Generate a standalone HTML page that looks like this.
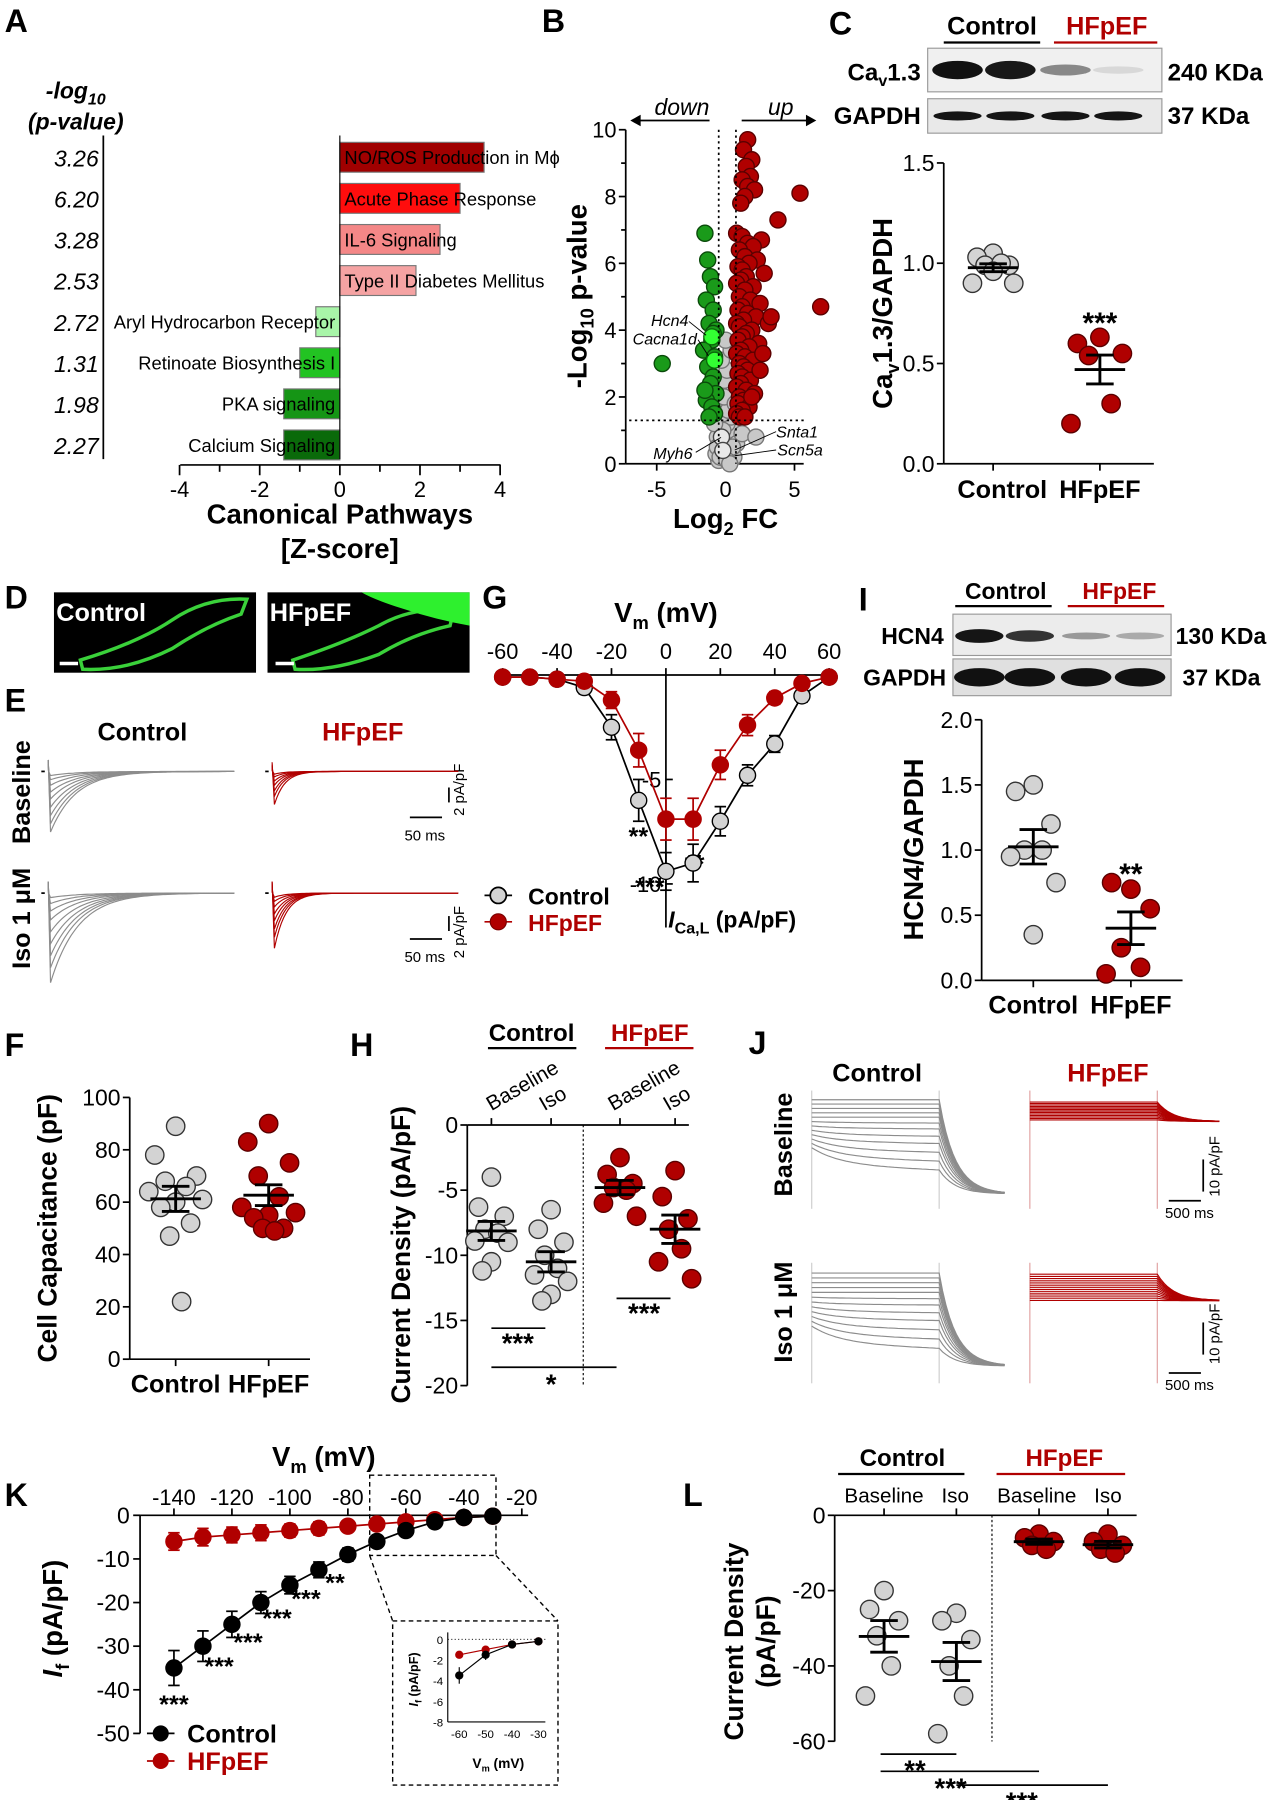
<!DOCTYPE html>
<html><head><meta charset="utf-8"><style>
html,body{margin:0;padding:0;background:#fff}
svg{display:block;font-family:"Liberation Sans",sans-serif}
.b{font-weight:bold}
</style></head><body>
<svg id="fig" width="1279" height="1800" viewBox="0 0 1114 1568" preserveAspectRatio="none" xmlns="http://www.w3.org/2000/svg">
<rect x="0" y="0" width="1114" height="1568" fill="#fff"/>
<g class="b" font-size="28">
<text x="4" y="28">A</text>
<text x="472" y="28">B</text>
<text x="722" y="30">C</text>
<text x="4" y="530">D</text>
<text x="4" y="620">E</text>
<text x="420" y="530">G</text>
<text x="748" y="532">I</text>
<text x="4" y="920">F</text>
<text x="305" y="920">H</text>
<text x="652" y="918">J</text>
<text x="4" y="1312">K</text>
<text x="595" y="1312">L</text>
</g>
<text x="66" y="86" font-size="20" font-style="italic" class="b" text-anchor="middle">-log<tspan font-size="14" dy="5">10</tspan></text>
<text x="66" y="113" font-size="20" font-style="italic" class="b" text-anchor="middle">(p-value)</text>
<text x="296" y="456" font-size="24" class="b" text-anchor="middle">Canonical Pathways</text>
<text x="296" y="486" font-size="24" class="b" text-anchor="middle">[Z-score]</text>
<text x="594" y="100" font-size="20" font-style="italic" text-anchor="middle">down</text>
<text x="680" y="100" font-size="20" font-style="italic" text-anchor="middle">up</text>
<text x="632" y="460" font-size="24" class="b" text-anchor="middle">Log<tspan font-size="16" dy="6">2</tspan><tspan dy="-6"> FC</tspan></text>
<text transform="translate(511,258) rotate(-90)" font-size="24" class="b" text-anchor="middle">-Log<tspan font-size="16" dy="6">10</tspan><tspan dy="-6"> p-value</tspan></text>
<g font-size="14" font-style="italic">
<text x="567" y="284">Hcn4</text>
<text x="551" y="300">Cacna1d</text>
<text x="569" y="400">Myh6</text>
<text x="676" y="381">Snta1</text>
<text x="677" y="397">Scn5a</text>
</g>
<text x="864" y="30" font-size="22" class="b" text-anchor="middle">Control</text>
<line x1="822" y1="37" x2="906" y2="37" stroke="#000" stroke-width="2"/>
<text x="964" y="30" font-size="22" class="b" fill="#b00000" text-anchor="middle">HFpEF</text>
<line x1="918" y1="37" x2="1008" y2="37" stroke="#b00000" stroke-width="2"/>
<text x="802" y="70" font-size="21" class="b" text-anchor="end">Ca<tspan font-size="14" dy="5">v</tspan><tspan dy="-5">1.3</tspan></text>
<text x="802" y="108" font-size="21" class="b" text-anchor="end">GAPDH</text>
<text x="1017" y="70" font-size="21" class="b">240 KDa</text>
<text x="1017" y="108" font-size="21" class="b">37 KDa</text>
<text x="873" y="434" font-size="22" class="b" text-anchor="middle">Control</text>
<text x="958" y="434" font-size="22" class="b" text-anchor="middle">HFpEF</text>
<text transform="translate(777,273) rotate(-90)" font-size="24" class="b" text-anchor="middle">Ca<tspan font-size="16" dy="6">v</tspan><tspan dy="-6">1.3/GAPDH</tspan></text>
<text x="958" y="290" font-size="26" class="b" text-anchor="middle">***</text>
<rect x="47" y="516" width="176" height="70" fill="#000"/>
<rect x="233" y="516" width="176" height="70" fill="#000"/>
<path d="M70 575 Q120 560 150 540 Q180 520 215 522 L210 535 Q180 545 150 565 Q110 585 72 583Z" fill="none" stroke="#3ad13a" stroke-width="3"/>
<path d="M255 575 Q300 560 330 545 Q360 528 395 532 L392 545 Q360 552 330 570 Q290 585 257 583Z" fill="none" stroke="#3ad13a" stroke-width="3"/>
<path d="M315 516 L409 516 L409 545 Q380 540 350 530 Q325 522 315 516Z" fill="#2ef02e"/>
<text x="49" y="541" font-size="22" class="b" fill="#fff">Control</text>
<text x="235" y="541" font-size="22" class="b" fill="#fff">HFpEF</text>
<line x1="52" y1="578" x2="68" y2="578" stroke="#fff" stroke-width="3"/>
<line x1="240" y1="578" x2="256" y2="578" stroke="#fff" stroke-width="3"/>
<text x="124" y="645" font-size="22" class="b" text-anchor="middle">Control</text>
<text x="316" y="645" font-size="22" class="b" fill="#b00000" text-anchor="middle">HFpEF</text>
<text transform="translate(26,690) rotate(-90)" font-size="22" class="b" text-anchor="middle">Baseline</text>
<text transform="translate(26,800) rotate(-90)" font-size="22" class="b" text-anchor="middle">Iso 1 μM</text>
<g>
<line x1="357" y1="712" x2="385" y2="712" stroke="#000" stroke-width="1.5"/>
<text x="370" y="732" font-size="13" text-anchor="middle">50 ms</text>
<line x1="391" y1="686" x2="391" y2="699" stroke="#000" stroke-width="1.5"/>
<text transform="translate(404,688) rotate(-90)" font-size="13" text-anchor="middle">2 pA/pF</text>
<line x1="357" y1="818" x2="385" y2="818" stroke="#000" stroke-width="1.5"/>
<text x="370" y="838" font-size="13" text-anchor="middle">50 ms</text>
<line x1="391" y1="798" x2="391" y2="811" stroke="#000" stroke-width="1.5"/>
<text transform="translate(404,812) rotate(-90)" font-size="13" text-anchor="middle">2 pA/pF</text>
</g>
<text x="580" y="542" font-size="24" class="b" text-anchor="middle">V<tspan font-size="16" dy="6">m</tspan><tspan dy="-6"> (mV)</tspan></text>
<text x="582" y="808" font-size="20" class="b"><tspan font-style="italic">I</tspan><tspan font-size="14" dy="5">Ca,L</tspan><tspan dy="-5"> (pA/pF)</tspan></text>
<line x1="422" y1="780" x2="446" y2="780" stroke="#000" stroke-width="1.5"/>
<circle cx="434" cy="780" r="7" fill="#d3d3d3" stroke="#000" stroke-width="1.5"/>
<text x="460" y="788" font-size="20" class="b">Control</text>
<line x1="422" y1="803" x2="446" y2="803" stroke="#b00000" stroke-width="1.5"/>
<circle cx="434" cy="803" r="7" fill="#b00000" stroke="#7a0000" stroke-width="1"/>
<text x="460" y="811" font-size="20" class="b" fill="#b00000">HFpEF</text>
<g font-size="22" class="b" text-anchor="middle">
<text x="556" y="736">**</text>
<text x="566" y="780">***</text>
<text x="605" y="760">**</text>
</g>
<text x="876" y="522" font-size="20" class="b" text-anchor="middle">Control</text>
<line x1="832" y1="528" x2="916" y2="528" stroke="#000" stroke-width="2"/>
<text x="975" y="522" font-size="20" class="b" fill="#b00000" text-anchor="middle">HFpEF</text>
<line x1="930" y1="528" x2="1014" y2="528" stroke="#b00000" stroke-width="2"/>
<text x="822" y="561" font-size="20" class="b" text-anchor="end">HCN4</text>
<text x="824" y="597" font-size="20" class="b" text-anchor="end">GAPDH</text>
<text x="1024" y="561" font-size="20" class="b">130 KDa</text>
<text x="1030" y="597" font-size="20" class="b">37 KDa</text>
<text x="900" y="883" font-size="22" class="b" text-anchor="middle">Control</text>
<text x="985" y="883" font-size="22" class="b" text-anchor="middle">HFpEF</text>
<text transform="translate(804,740) rotate(-90)" font-size="24" class="b" text-anchor="middle">HCN4/GAPDH</text>
<text x="985" y="770" font-size="26" class="b" text-anchor="middle">**</text>
<text x="153" y="1213" font-size="22" class="b" text-anchor="middle">Control</text>
<text x="234" y="1213" font-size="22" class="b" text-anchor="middle">HFpEF</text>
<text transform="translate(49,1070) rotate(-90)" font-size="23" class="b" text-anchor="middle">Cell Capacitance (pF)</text>
<text x="463" y="907" font-size="21" class="b" text-anchor="middle">Control</text>
<line x1="425" y1="913" x2="502" y2="913" stroke="#000" stroke-width="2"/>
<text x="566" y="907" font-size="21" class="b" fill="#b00000" text-anchor="middle">HFpEF</text>
<line x1="527" y1="913" x2="604" y2="913" stroke="#b00000" stroke-width="2"/>
<g font-size="18">
<text transform="translate(428,968) rotate(-30)">Baseline</text>
<text transform="translate(474,968) rotate(-30)">Iso</text>
<text transform="translate(534,968) rotate(-30)">Baseline</text>
<text transform="translate(582,968) rotate(-30)">Iso</text>
</g>
<text transform="translate(357,1093) rotate(-90)" font-size="23" class="b" text-anchor="middle">Current Density (pA/pF)</text>
<g>
<line x1="428" y1="1157" x2="475" y2="1157" stroke="#000" stroke-width="1.5"/>
<text x="451" y="1178" font-size="24" class="b" text-anchor="middle">***</text>
<line x1="537" y1="1131" x2="584" y2="1131" stroke="#000" stroke-width="1.5"/>
<text x="561" y="1152" font-size="24" class="b" text-anchor="middle">***</text>
<line x1="428" y1="1191" x2="537" y2="1191" stroke="#000" stroke-width="1.5"/>
<text x="480" y="1214" font-size="24" class="b" text-anchor="middle">*</text>
</g>
<text x="764" y="942" font-size="22" class="b" text-anchor="middle">Control</text>
<text x="965" y="942" font-size="22" class="b" fill="#b00000" text-anchor="middle">HFpEF</text>
<text transform="translate(690,997) rotate(-90)" font-size="22" class="b" text-anchor="middle">Baseline</text>
<text transform="translate(690,1143) rotate(-90)" font-size="22" class="b" text-anchor="middle">Iso 1 μM</text>
<g>
<line x1="1018" y1="1046" x2="1046" y2="1046" stroke="#000" stroke-width="1.5"/>
<text x="1036" y="1061" font-size="13" text-anchor="middle">500 ms</text>
<line x1="1048" y1="1010" x2="1048" y2="1038" stroke="#000" stroke-width="1.5"/>
<text transform="translate(1062,1016) rotate(-90)" font-size="13" text-anchor="middle">10 pA/pF</text>
<line x1="1018" y1="1196" x2="1046" y2="1196" stroke="#000" stroke-width="1.5"/>
<text x="1036" y="1211" font-size="13" text-anchor="middle">500 ms</text>
<line x1="1048" y1="1152" x2="1048" y2="1180" stroke="#000" stroke-width="1.5"/>
<text transform="translate(1062,1162) rotate(-90)" font-size="13" text-anchor="middle">10 pA/pF</text>
</g>
<text x="282" y="1277" font-size="24" class="b" text-anchor="middle">V<tspan font-size="16" dy="6">m</tspan><tspan dy="-6"> (mV)</tspan></text>
<text transform="translate(54,1410) rotate(-90)" font-size="24" class="b" text-anchor="middle"><tspan font-style="italic">I</tspan><tspan font-size="16" dy="6">f</tspan><tspan dy="-6"> (pA/pF)</tspan></text>
<line x1="128" y1="1510" x2="152" y2="1510" stroke="#000" stroke-width="1.5"/>
<circle cx="140" cy="1510" r="7" fill="#000"/>
<text x="163" y="1518" font-size="22" class="b">Control</text>
<line x1="128" y1="1534" x2="152" y2="1534" stroke="#b00000" stroke-width="1.5"/>
<circle cx="140" cy="1534" r="7" fill="#b00000"/>
<text x="163" y="1542" font-size="22" class="b" fill="#b00000">HFpEF</text>
<g fill="none" stroke="#000" stroke-dasharray="4,3" stroke-width="1.2">
<rect x="322" y="1285" width="110" height="70"/>
<line x1="322" y1="1355" x2="342" y2="1412"/>
<line x1="432" y1="1355" x2="486" y2="1412"/>
<rect x="342" y="1412" width="144" height="143"/>
</g>
<text transform="translate(364,1463) rotate(-90)" font-size="11" class="b" text-anchor="middle"><tspan font-style="italic">I</tspan><tspan font-size="8" dy="3">f</tspan><tspan dy="-3"> (pA/pF)</tspan></text>
<text x="434" y="1540" font-size="12" class="b" text-anchor="middle">V<tspan font-size="8" dy="3">m</tspan><tspan dy="-3"> (mV)</tspan></text>
<text x="786" y="1277" font-size="21" class="b" text-anchor="middle">Control</text>
<line x1="730" y1="1284" x2="840" y2="1284" stroke="#000" stroke-width="2"/>
<text x="927" y="1277" font-size="21" class="b" fill="#b00000" text-anchor="middle">HFpEF</text>
<line x1="868" y1="1284" x2="980" y2="1284" stroke="#b00000" stroke-width="2"/>
<g font-size="18" text-anchor="middle">
<text x="770" y="1309">Baseline</text>
<text x="832" y="1309">Iso</text>
<text x="903" y="1309">Baseline</text>
<text x="965" y="1309">Iso</text>
</g>
<text transform="translate(647,1430) rotate(-90)" font-size="23" class="b" text-anchor="middle">Current Density</text>
<text transform="translate(675,1430) rotate(-90)" font-size="23" class="b" text-anchor="middle">(pA/pF)</text>
<g>
<line x1="767" y1="1528" x2="833" y2="1528" stroke="#000" stroke-width="1.5"/>
<text x="797" y="1550" font-size="24" class="b" text-anchor="middle">**</text>
<line x1="767" y1="1543" x2="905" y2="1543" stroke="#000" stroke-width="1.5"/>
<text x="828" y="1566" font-size="24" class="b" text-anchor="middle">***</text>
<line x1="833" y1="1555" x2="965" y2="1555" stroke="#000" stroke-width="1.5"/>
<text x="890" y="1578" font-size="24" class="b" text-anchor="middle">***</text>
</g>
</svg>
<script>
const aNames=["NO/ROS Production in M\u03d5","Acute Phase Response","IL-6 Signaling","Type II Diabetes Mellitus","Aryl Hydrocarbon Receptor","Retinoate Biosynthesis I","PKA signaling","Calcium Signaling"];
const aZ=[3.6,3.0,2.5,1.9,-0.6,-1.0,-1.4,-1.4];
const aP=["3.26","6.20","3.28","2.53","2.72","1.31","1.98","2.27"];
const aTicks=[-4,-2,0,2,4];
const bRedX=[1.6,1.3,1.9,1.5,1.8,1.2,1.6,2.1,1.4,1.1,5.4,3.8,6.9,2.6,0.8,1.2,1.6,2.0,1.0,1.4,2.3,1.7,0.9,1.2,2.8,1.5,1.1,0.8,2.0,1.4,1.0,1.8,2.5,1.2,0.9,1.6,2.2,1.3,0.8,1.0,1.9,1.5,1.2,0.9,2.4,1.7,1.1,0.8,1.4,2.0,1.0,1.3,1.6,0.9,1.2,1.8,3.1,2.7,1.1,0.8,1.5,2.1,1.0,1.3,0.9,1.7,1.2,0.8,1.0,1.4,3.3,2.5,1.9];
const bRedY=[9.7,9.4,9.1,8.9,8.6,8.5,8.3,8.2,8.0,7.8,8.1,7.3,4.7,6.7,6.9,6.8,6.6,6.5,6.4,6.2,6.1,6.0,5.9,5.8,5.7,5.6,5.5,5.4,5.3,5.2,5.0,4.9,4.8,4.7,4.6,4.5,4.4,4.3,4.2,4.1,4.0,3.9,3.8,3.7,3.6,3.5,3.4,3.3,3.2,3.1,3.0,2.9,2.8,2.7,2.6,2.5,4.2,3.3,2.4,2.3,2.2,2.1,2.0,1.9,1.8,1.7,1.6,1.5,1.4,1.4,4.4,2.8,2.0];
const bGreenX=[-1.5,-1.3,-1.1,-0.8,-1.4,-0.9,-4.6,-1.2,-0.7,-1.0,-1.6,-0.8,-1.3,-0.9,-1.1,-0.7,-1.4,-1.0,-0.8,-1.2,-0.9,-1.5];
const bGreenY=[6.9,6.1,5.6,5.3,4.9,4.6,3.0,4.2,4.0,3.7,3.4,3.2,2.9,2.6,2.4,2.1,1.9,1.7,1.5,1.4,3.9,2.2];
const bHiX=[-1.0,-0.8];
const bHiY=[3.8,3.1];
const bGrayX=[-0.5,-0.2,0.1,0.4,-0.4,0.0,0.3,-0.6,-0.1,0.2,0.5,-0.3,0.1,-0.5,0.4,-0.2,0.0,0.3,-0.4,0.2,-0.1,0.6,-0.7,0.1,0.8,-0.3,0.4,0.0,1.2,2.2,-0.6,0.2,-0.2,0.5,-0.4,0.1,0.3,-0.1,-0.8,0.7];
const bGrayY=[0.1,0.2,0.15,0.3,0.5,0.6,0.4,0.8,0.9,0.7,1.0,1.1,1.2,1.3,1.4,1.5,1.7,1.9,2.1,2.3,2.5,0.2,0.3,2.8,0.6,3.1,3.4,3.7,0.9,0.8,0.5,1.6,1.0,0.5,0.2,0.1,0.0,2.0,1.2,1.8];
const bTicksY=[0,2,4,6,8,10];
const bTicksX=[-5,0,5];
const cCtrl=[1.05,1.03,0.99,0.99,1.0,0.9,0.9,0.96];
const cHf=[0.63,0.6,0.55,0.54,0.3,0.2];
const cTicks=[0,0.5,1.0,1.5];
const iCtrl=[1.5,1.45,1.2,1.0,1.0,0.95,0.75,0.35];
const iHf=[0.7,0.75,0.55,0.25,0.1,0.05];
const iTicks=[0,0.5,1.0,1.5,2.0];
const fCtrl=[89,78,70,68,66,64,61,60,58,52,47,22];
const fHf=[90,83,75,70,62,58,56,55,54,50,50,49];
const fTicks=[0,20,40,60,80,100];
const hCtrlBase=[-4,-6.3,-7,-8,-8.3,-8.9,-9,-10.5,-11.2];
const hCtrlIso=[-6.5,-8,-9,-10,-11,-11.5,-12,-13,-13.5];
const hHfBase=[-2.5,-3.8,-4.5,-4.8,-5,-6,-7];
const hHfIso=[-3.5,-5.5,-7.2,-8,-9.5,-10.5,-11.8];
const hTicks=[0,-5,-10,-15,-20];
const gV=[-60,-50,-40,-30,-20,-10,0,10,20,30,40,50,60];
const gCtrl=[-0.1,-0.1,-0.2,-0.6,-2.5,-6.0,-9.4,-9.0,-7.0,-4.8,-3.3,-1.0,-0.1];
const gCtrlErr=[0.1,0.1,0.2,0.3,0.6,1.0,0.9,0.9,0.7,0.5,0.4,0.3,0.1];
const gHf=[-0.1,-0.1,-0.2,-0.3,-1.2,-3.6,-6.9,-6.9,-4.3,-2.4,-1.1,-0.4,-0.1];
const gHfErr=[0.1,0.1,0.1,0.2,0.4,0.8,1.0,1.0,0.7,0.5,0.3,0.2,0.1];
const gTicksX=[-60,-40,-20,0,20,40,60];
const gTicksY=[-5,-10];
const kV=[-140,-130,-120,-110,-100,-90,-80,-70,-60,-50,-40,-30];
const kCtrl=[-35,-30,-25,-20,-16,-12.5,-9,-6,-3.5,-1.5,-0.5,-0.2];
const kCtrlErr=[4,3.5,3,2.5,2,1.8,1.5,1,0.8,0.5,0.3,0.2];
const kHf=[-6,-5,-4.5,-4,-3.5,-3,-2.5,-2,-1.5,-1,-0.5,-0.2];
const kHfErr=[2,2,1.8,1.8,1.5,1.5,1.2,1,0.8,0.6,0.4,0.2];
const kTicksX=[-140,-120,-100,-80,-60,-40,-20];
const kTicksY=[0,-10,-20,-30,-40,-50];
const kStars=["***","***","***","***","***","**"];
const kInsetTicksX=[-60,-50,-40,-30];
const kInsetTicksY=[0,-2,-4,-6,-8];
const lCtrlBase=[-20,-25,-28,-32,-40,-48];
const lCtrlIso=[-26,-28,-33,-40,-48,-58];
const lHfBase=[-5,-6,-7,-8,-9];
const lHfIso=[-5,-7,-8,-9,-10];
const lTicks=[0,-20,-40,-60];
const eCtrlBaseAmp=[0.3,0.6,1.0,1.5,2.0,2.6,3.2,3.8,4.4];
const eHfBaseAmp=[0.2,0.4,0.7,1.0,1.4,1.8,2.4];
const eCtrlIsoAmp=[0.3,0.7,1.2,1.8,2.6,3.4,4.2,5.0,6.0];
const eHfIsoAmp=[0.3,0.6,1.0,1.5,2.0,2.6,3.2,4.0];
const jCtrlBaseAct=[0,0,0,0,0,1,2,4,6,9,12,15];
const jCtrlIsoAct=[0,0,0,0,0,1,2,4,6,9,12,15];
const jHfAct=[0,0,0,0,0,0,0,0,0,0,0,0,0];

const NS="http://www.w3.org/2000/svg";
const S=document.getElementById('fig');
function mk(tag,attrs,name,parent){
  const el=document.createElementNS(NS,tag);
  for(const k in attrs) el.setAttribute(k,attrs[k]);
  
  
  (parent||S).appendChild(el);
  return el;
}
function txt(x,y,s,size,anchor,name,extra){
  const a={x:x,y:y,'font-size':size,'text-anchor':anchor||'middle'};
  if(extra) for(const k in extra) a[k]=extra[k];
  const t=mk('text',a,name);
  t.textContent=s;
  return t;
}
function ln(x1,y1,x2,y2,name,stroke,w,dash){
  const a={x1:x1,y1:y1,x2:x2,y2:y2,stroke:stroke||'#000','stroke-width':w||1.5};
  if(dash) a['stroke-dasharray']=dash;
  return mk('line',a,name);
}
function dot(x,y,r,fill,stroke,name){
  return mk('circle',{cx:x,cy:y,r:r,fill:fill,stroke:stroke,'stroke-width':1.2},name);
}
const jit=[0,-14,14,-7,7,-18,18,0,-10,10,-4,4];

const azx=v=>296+v*34.9, ary=i=>137+i*35.8;
ln(90,118,90,400,'a-y-axis');
ln(157,405,436,405,'a-x-axis');
for(let v=-4;v<=4;v++) ln(azx(v),405,azx(v),v%2?411:414,'a-x-tick');
aTicks.forEach(v=>txt(azx(v),433,String(v),19,'middle','a-x-tick-label'));
aZ.forEach((z,i)=>{
  const cols=['#a00000','#ff0d0d','#f48787','#f5a3a3','#a8f5a8','#22c322','#159515','#0a6a0a'];
  const x0=Math.min(azx(0),azx(z));
  mk('rect',{x:x0,y:ary(i)-13,width:Math.abs(azx(z)-azx(0)),height:26,fill:cols[i],stroke:'#777','stroke-width':1},'a-bar');
  txt(86,ary(i)+8,aP[i],20,'end','a-pvalue',{'font-style':'italic'});
  if(z>0) txt(300,ary(i)+6,aNames[i],16,'start','a-pathway-label');
  else txt(292,ary(i)+6,aNames[i],16,'end','a-pathway-label');
});
ln(296,118,296,400,'a-zero-line','#000',1);

const bx=v=>632+v*12, by=v=>404-v*29.1;
ln(545,113,545,404,'b-y-axis');
ln(545,404,700,404,'b-x-axis');
bTicksY.forEach(v=>{ln(539,by(v),545,by(v),'b-y-tick');txt(537,by(v)+7,String(v),19,'end','b-y-tick-label');});
[1,3,5,7,9].forEach(v=>ln(541,by(v),545,by(v),'b-y-minor-tick'));
bTicksX.forEach(v=>{ln(bx(v),404,bx(v),410,'b-x-tick');txt(bx(v),433,String(v),19,'middle','b-x-tick-label');});
ln(552,105,618,105,'b-down-arrow');
mk('path',{d:'M549 105 l9 -5 l0 10z',fill:'#000'},'b-down-arrowhead');
ln(646,105,707,105,'b-up-arrow');
mk('path',{d:'M711 105 l-9 -5 l0 10z',fill:'#000'},'b-up-arrowhead');
bGrayX.forEach((x,i)=>dot(bx(x),by(bGrayY[i]),7,'#c8c8c8','#777','b-point-ns'));
bRedX.forEach((x,i)=>dot(bx(x),by(bRedY[i]),7,'#b00000','#5a0000','b-point-up'));
bGreenX.forEach((x,i)=>dot(bx(x),by(bGreenY[i]),7,'#1a9a1a','#0a4a0a','b-point-down'));
bHiX.forEach((x,i)=>dot(bx(x),by(bHiY[i]),7,'#33ff33','#0a6a0a','b-point-highlight'));
dot(bx(-0.3),by(0.8),7,'#e8e8e8','#444','b-point-myh6');
dot(bx(-0.2),by(0.4),7,'#e8e8e8','#444','b-point-snta1');
ln(626,113,626,404,'b-fc-threshold-left','#000',1.5,'2,3');
ln(641,113,641,404,'b-fc-threshold-right','#000',1.5,'2,3');
ln(548,by(1.3),700,by(1.3),'b-p-threshold','#000',1.5,'2,3');
ln(600,280,615,292,'b-hcn4-pointer','#000',0.8);
ln(608,296,617,310,'b-cacna1d-pointer','#000',0.8);
ln(606,394,628,381,'b-myh6-pointer','#000',0.8);
ln(640,392,676,376,'b-snta1-pointer','#000',0.8);
ln(640,397,676,392,'b-scn5a-pointer','#000',0.8);

mk('rect',{x:808,y:42,width:204,height:38,fill:'#f0f0f0',stroke:'#999'},'c-blot-cav13');
mk('rect',{x:808,y:86,width:204,height:30,fill:'#e9e9e9',stroke:'#999'},'c-blot-gapdh');
[[834,'#111',5],[880,'#181818',5],[928,'#888',3],[974,'#d8d8d8',2]].forEach(b=>{
  mk('ellipse',{cx:b[0],cy:61,rx:22,ry:b[2]*1.6,fill:b[1]},'c-band-cav13');
  mk('ellipse',{cx:b[0],cy:101,rx:21,ry:4,fill:'#151515'},'c-band-gapdh');
});
const cy=v=>404-v*174.7;
ln(822,142,822,404,'c-y-axis');
ln(822,404,1005,404,'c-x-axis');
cTicks.forEach(v=>{ln(816,cy(v),822,cy(v),'c-y-tick');txt(814,cy(v)+7,v.toFixed(1),20,'end','c-y-tick-label');});
[865,958].forEach(x=>ln(x,404,x,410,'c-x-tick'));
function scatter(vals,cx,yf,fill,stroke,name,r,jw){
  vals.forEach((v,i)=>dot(cx+jit[i%jit.length]*(jw||1),yf(v),r||8,fill,stroke,name));
  const m=vals.reduce((a,b)=>a+b,0)/vals.length;
  const sd=Math.sqrt(vals.reduce((a,b)=>a+(b-m)*(b-m),0)/(vals.length-1));
  const se=sd/Math.sqrt(vals.length);
  ln(cx-22,yf(m),cx+22,yf(m),name+'-mean','#000',2.5);
  ln(cx,yf(m-se),cx,yf(m+se),name+'-sem','#000',2.5);
  ln(cx-12,yf(m-se),cx+12,yf(m-se),name+'-sem-cap','#000',2.5);
  ln(cx-12,yf(m+se),cx+12,yf(m+se),name+'-sem-cap','#000',2.5);
}
scatter(cCtrl,865,cy,'#d3d3d3','#333','c-control-point');
scatter(cHf,958,cy,'#b00000','#5a0000','c-hfpef-point',8,1.4);

function caTraces(amps,x0,x1,y0,col,scale,tau,name){
  amps.forEach(A=>{
    let d='M'+x0+' '+(y0-10*Math.min(1,A/3));
    for(let x=x0+2;x<=x1;x+=2){
      const t=x-x0-2;
      d+=' L'+x+' '+(y0+A*scale*Math.exp(-t/tau)).toFixed(1);
    }
    mk('path',{d:d,fill:'none',stroke:col,'stroke-width':1},name);
  });
}
ln(36,672,39,672,'e-zero-marker');ln(231,672,234,672,'e-zero-marker');
ln(36,778,39,778,'e-zero-marker');ln(231,778,234,778,'e-zero-marker');
caTraces(eCtrlBaseAmp,42,205,672,'#8c8c8c',12,22,'e-control-baseline-trace');
caTraces(eHfBaseAmp,237,400,672,'#b00000',12,9,'e-hfpef-baseline-trace');
caTraces(eCtrlIsoAmp,42,205,778,'#8c8c8c',13,24,'e-control-iso-trace');
caTraces(eHfIsoAmp,237,400,778,'#b00000',12,10,'e-hfpef-iso-trace');

const gx=v=>580+v*2.37, gy=v=>588-v*18.2;
ln(438,588,722,588,'g-x-axis');
ln(580,588,580,808,'g-y-axis');
gTicksX.forEach(v=>{ln(gx(v),582,gx(v),588,'g-x-tick');txt(gx(v),574,String(v),19,'middle','g-x-tick-label');});
gTicksY.forEach(v=>{ln(580,gy(v),586,gy(v),'g-y-tick');txt(576,gy(v)+7,String(v),19,'end','g-y-tick-label');});
function series(xs,ys,es,xf,yf,col,fill,name,r){
  mk('polyline',{points:xs.map((x,i)=>xf(x)+','+yf(ys[i])).join(' '),fill:'none',stroke:col,'stroke-width':1.5},name+'-line');
  xs.forEach((x,i)=>{
    ln(xf(x),yf(ys[i]-es[i]),xf(x),yf(ys[i]+es[i]),name+'-errorbar',col,1.5);
    ln(xf(x)-5,yf(ys[i]-es[i]),xf(x)+5,yf(ys[i]-es[i]),name+'-errorcap',col,1.5);
    ln(xf(x)-5,yf(ys[i]+es[i]),xf(x)+5,yf(ys[i]+es[i]),name+'-errorcap',col,1.5);
    dot(xf(x),yf(ys[i]),r||7,fill,col,name+'-point');
  });
}
series(gV,gCtrl,gCtrlErr,gx,gy,'#000','#d3d3d3','g-control');
series(gV,gHf,gHfErr,gx,gy,'#b00000','#b00000','g-hfpef');

mk('rect',{x:830,y:535,width:190,height:36,fill:'#ececec',stroke:'#999'},'i-blot-hcn4');
mk('rect',{x:830,y:574,width:190,height:32,fill:'#e0e0e0',stroke:'#999'},'i-blot-gapdh');
[[853,'#151515',6],[897,'#333',5],[946,'#999',3],[993,'#aaa',3]].forEach(b=>{
  mk('ellipse',{cx:b[0],cy:554,rx:21,ry:b[2],fill:b[1]},'i-band-hcn4');
  mk('ellipse',{cx:b[0],cy:590,rx:22,ry:8,fill:'#111'},'i-band-gapdh');
});
const iy=v=>854-v*113.5;
ln(855,627,855,854,'i-y-axis');
ln(855,854,1030,854,'i-x-axis');
iTicks.forEach(v=>{ln(849,iy(v),855,iy(v),'i-y-tick');txt(847,iy(v)+7,v.toFixed(1),20,'end','i-y-tick-label');});
[900,985].forEach(x=>ln(x,854,x,860,'i-x-tick'));
scatter(iCtrl,900,iy,'#d3d3d3','#333','i-control-point',8,1.1);
scatter(iHf,985,iy,'#b00000','#5a0000','i-hfpef-point',8,1.2);

const fy=v=>1184-v*2.28;
ln(113,956,113,1184,'f-y-axis');
ln(113,1184,270,1184,'f-x-axis');
fTicks.forEach(v=>{ln(107,fy(v),113,fy(v),'f-y-tick');txt(105,fy(v)+7,String(v),20,'end','f-y-tick-label');});
[153,234].forEach(x=>ln(x,1184,x,1190,'f-x-tick'));
scatter(fCtrl,153,fy,'#d3d3d3','#333','f-control-point',8,1.3);
scatter(fHf,234,fy,'#b00000','#5a0000','f-hfpef-point',8,1.3);

const hy=v=>980-v*11.35;
ln(407,980,407,1207,'h-y-axis');
ln(407,980,600,980,'h-x-axis');
hTicks.forEach(v=>{ln(401,hy(v),407,hy(v),'h-y-tick');txt(399,hy(v)+7,String(v),20,'end','h-y-tick-label');});
[428,480,540,588].forEach(x=>ln(x,974,x,980,'h-x-tick'));
ln(508,980,508,1207,'h-divider','#000',1,'2,2');
scatter(hCtrlBase,428,hy,'#d3d3d3','#333','h-control-baseline-point',8,0.8);
scatter(hCtrlIso,480,hy,'#d3d3d3','#333','h-control-iso-point',8,0.8);
scatter(hHfBase,540,hy,'#b00000','#5a0000','h-hfpef-baseline-point',8,0.8);
scatter(hHfIso,588,hy,'#b00000','#5a0000','h-hfpef-iso-point',8,0.8);

function jTraces(acts,x0,x1,x2,ytop,step,tailY,col,name){
  acts.forEach((a,i)=>{
    const y0=ytop+i*step;
    let d='M'+x0+' '+y0;
    for(let x=x0+3;x<=x1;x+=3){const t=x-x0;d+=' L'+x+' '+(y0+a*(1-Math.exp(-t/25))+a*0.3*t/(x1-x0)).toFixed(1);}
    const yend=y0+a*1.3;
    for(let x=x1+3;x<=x2;x+=3){const t=x-x1;d+=' L'+x+' '+(tailY+(yend-tailY)*Math.exp(-t/14)).toFixed(1);}
    mk('path',{d:d,fill:'none',stroke:col,'stroke-width':1},name);
  });
}
ln(707,950,707,1053,'j-marker-line','#ccc',1);ln(818,950,818,1053,'j-marker-line','#ccc',1);
ln(897,950,897,1053,'j-marker-line','#e0a0a0',1);ln(1008,950,1008,1053,'j-marker-line','#e0a0a0',1);
ln(707,1100,707,1205,'j-marker-line','#ccc',1);ln(818,1100,818,1205,'j-marker-line','#ccc',1);
ln(897,1100,897,1205,'j-marker-line','#e0a0a0',1);ln(1008,1100,1008,1205,'j-marker-line','#e0a0a0',1);
jTraces(jCtrlBaseAct,707,818,875,958,3.8,1040,'#8c8c8c','j-control-baseline-trace');
jTraces(jHfAct,897,1008,1063,960,1.3,977,'#b00000','j-hfpef-baseline-trace');
jTraces(jCtrlIsoAct,707,818,875,1109,4.2,1190,'#8c8c8c','j-control-iso-trace');
jTraces(jHfAct,897,1008,1063,1110,1.9,1133,'#b00000','j-hfpef-iso-trace');

const kx=v=>505+v*2.525, ky=v=>1320-v*3.8;
ln(122,1320,460,1320,'k-x-axis');
ln(122,1320,122,1510,'k-y-axis');
kTicksX.forEach(v=>{ln(kx(v),1314,kx(v),1320,'k-x-tick');txt(kx(v),1311,String(v),19,'middle','k-x-tick-label');});
kTicksY.forEach(v=>{ln(116,ky(v),122,ky(v),'k-y-tick');txt(113,ky(v)+7,String(v),20,'end','k-y-tick-label');});
series(kV,kHf,kHfErr,kx,ky,'#b00000','#b00000','k-hfpef');
series(kV,kCtrl,kCtrlErr,kx,ky,'#000','#000','k-control');
kStars.forEach((s,i)=>txt(kx(kV[i])+(i?14:0),ky(kCtrl[i]-kCtrlErr[i])+(i?12:24),s,22,'middle','k-sig',{'font-weight':'bold'}));
const ix=v=>400+(v+60)*2.3;
const iny=v=>1428-v*9;
ln(390,1428,475,1428,'k-inset-zero','#000',0.8,'1,2');
ln(390,1422,390,1500,'k-inset-y-axis','#000',1);
ln(390,1500,475,1500,'k-inset-x-axis','#000',1);
kInsetTicksY.forEach(v=>txt(386,iny(v)+4,String(v),10,'end','k-inset-y-tick-label'));
kInsetTicksX.forEach(v=>txt(ix(v),1514,String(v),10,'middle','k-inset-x-tick-label'));
const kiIdx=[8,9,10,11];
mk('polyline',{points:kiIdx.map(i=>ix(kV[i])+','+iny(kHf[i])).join(' '),fill:'none',stroke:'#b00000','stroke-width':1},'k-inset-hfpef-line');
mk('polyline',{points:kiIdx.map(i=>ix(kV[i])+','+iny(kCtrl[i])).join(' '),fill:'none',stroke:'#000','stroke-width':1},'k-inset-control-line');
kiIdx.forEach(i=>{
  ln(ix(kV[i]),iny(kCtrl[i]-kCtrlErr[i]),ix(kV[i]),iny(kCtrl[i]+kCtrlErr[i]),'k-inset-control-err','#000',1);
  dot(ix(kV[i]),iny(kHf[i]),3,'#b00000','#b00000','k-inset-hfpef-point');
  dot(ix(kV[i]),iny(kCtrl[i]),3,'#000','#000','k-inset-control-point');
});

const lyf=v=>1320-v*3.28;
ln(727,1320,727,1517,'l-y-axis');
ln(727,1320,990,1320,'l-x-axis');
lTicks.forEach(v=>{ln(721,lyf(v),727,lyf(v),'l-y-tick');txt(719,lyf(v)+7,String(v),20,'end','l-y-tick-label');});
[770,833,905,965].forEach(x=>ln(x,1314,x,1320,'l-x-tick'));
ln(864,1320,864,1517,'l-divider','#000',1,'2,2');
scatter(lCtrlBase,770,lyf,'#d3d3d3','#333','l-control-baseline-point',8,0.9);
scatter(lCtrlIso,833,lyf,'#d3d3d3','#333','l-control-iso-point',8,0.9);
scatter(lHfBase,905,lyf,'#b00000','#5a0000','l-hfpef-baseline-point',8,0.9);
scatter(lHfIso,965,lyf,'#b00000','#5a0000','l-hfpef-iso-point',8,0.9);
</script>
</body></html>
